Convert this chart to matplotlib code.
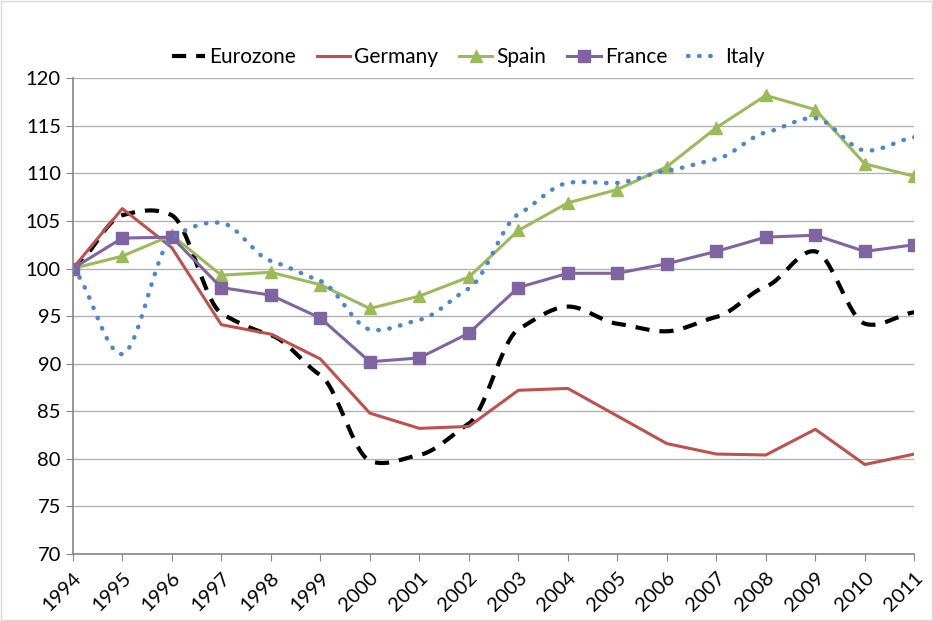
import numpy as np
from matplotlib import pyplot as plt
from matplotlib.patches import Rectangle

plt.rcParams["font.family"] = ["Lato", "DejaVu Sans"]

years = list(range(1994, 2012))
eurozone = [100, 105.6, 105.6, 95.3, 93.0, 88.8, 79.8, 80.4, 83.7, 93.6, 96.0, 94.2, 93.4, 94.9, 98.1, 101.8, 94.2, 95.4]
germany = [100, 106.3, 102.2, 94.1, 93.1, 90.5, 84.8, 83.2, 83.4, 87.2, 87.4, 84.5, 81.6, 80.5, 80.4, 83.1, 79.4, 80.5]
spain = [100, 101.3, 103.5, 99.3, 99.6, 98.3, 95.8, 97.1, 99.1, 104.0, 106.9, 108.3, 110.7, 114.8, 118.2, 116.7, 111.0, 109.7]
france = [100, 103.2, 103.3, 98.0, 97.2, 94.8, 90.2, 90.6, 93.2, 98.0, 99.5, 99.5, 100.5, 101.8, 103.3, 103.5, 101.8, 102.5]
italy = [100, 91.0, 103.2, 104.8, 100.8, 98.7, 93.6, 94.6, 97.9, 105.7, 109.0, 109.0, 110.3, 111.5, 114.3, 115.8, 112.4, 113.8]


def smooth(xs, ys, tension=0.5, n=24):
    # hermite curve through the points, like excel "smoothed line"
    x = np.asarray(xs, float)
    y = np.asarray(ys, float)
    my = np.zeros_like(y)
    my[1:-1] = (y[2:] - y[:-2]) / 2 * tension
    my[0] = (y[1] - y[0]) * tension
    my[-1] = (y[-1] - y[-2]) * tension
    t = np.linspace(0, 1, n, endpoint=False)
    h00 = 2 * t ** 3 - 3 * t ** 2 + 1
    h10 = t ** 3 - 2 * t ** 2 + t
    h01 = -2 * t ** 3 + 3 * t ** 2
    h11 = t ** 3 - t ** 2
    out_x, out_y = [], []
    for i in range(len(x) - 1):
        dx = x[i + 1] - x[i]
        out_x.extend(x[i] + t * dx)
        out_y.extend(h00 * y[i] + h10 * my[i] + h01 * y[i + 1] + h11 * my[i + 1])
    out_x.append(x[-1])
    out_y.append(y[-1])
    return out_x, out_y


fig = plt.figure(figsize=(9.33, 6.21), dpi=100)
ax = fig.add_axes([0.078, 0.108, 0.902, 0.766])
fig.patches.append(Rectangle((0.001, 0.001), 0.998, 0.998, transform=fig.transFigure,
                             fill=False, edgecolor="#d9d9d9", linewidth=1))

xi = np.arange(len(years))
ex, ey = smooth(xi, eurozone)
ax.plot(ex, ey, color="black", linestyle=(0, (3.4, 2.4)), linewidth=3, label="Eurozone")
ax.plot(xi, germany, color="#C0504D", linewidth=2.2, label="Germany")
ax.plot(xi, spain, color="#9BBB59", linewidth=2.2, marker="^", markersize=8, label="Spain")
ax.plot(xi, france, color="#8064A2", linewidth=2.2, marker="s", markersize=8, label="France")
ix, iy = smooth(xi, italy)
ax.plot(ix, iy, color="#4A86D4", linestyle=(0, (0.1, 2.4)), linewidth=3.2,
        dash_capstyle="round", label="Italy")

ax.set_xlim(0, len(years) - 1)
ax.set_ylim(70, 120)
ax.set_yticks(range(70, 121, 5))
ax.set_xticks(xi)
ax.set_xticklabels([str(y) for y in years], rotation=45, ha="right", rotation_mode="anchor")
ax.tick_params(axis="both", labelsize=14.5, color="#868686", length=5)
ax.tick_params(axis="x", pad=6)
ax.yaxis.grid(True, color="#b3b3b3", linewidth=1)
ax.set_axisbelow(True)
for s in ("top", "right"):
    ax.spines[s].set_visible(False)
for s in ("left", "bottom"):
    ax.spines[s].set_color("#868686")
    ax.spines[s].set_linewidth(1.2)

ax.legend(loc="center", bbox_to_anchor=(0.47, 1.045), ncol=5, frameon=False,
          fontsize=15, handlelength=1.6, handletextpad=0.2, columnspacing=1.0)

plt.savefig("out.png", dpi=100)
